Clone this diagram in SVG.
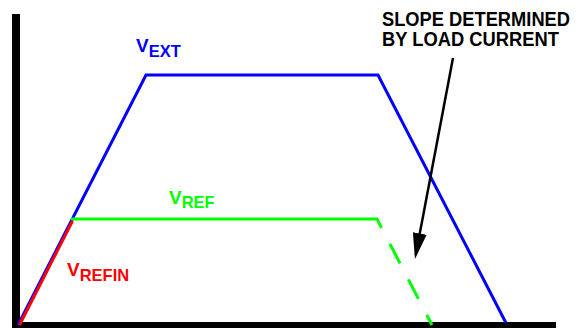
<svg xmlns="http://www.w3.org/2000/svg" width="582" height="328" viewBox="0 0 582 328">
<style>
.lbl{font-family:"Liberation Sans",Arial,sans-serif;font-weight:bold}
.ln{fill:none;stroke-width:3;stroke-linejoin:miter}
</style>
<defs>
<marker id="ah" markerWidth="26" markerHeight="14" refX="22" refY="7" orient="auto" markerUnits="userSpaceOnUse" viewBox="0 0 26 14">
<path d="M0,0 L26,7 L0,14 Z" fill="#000"/>
</marker>
</defs>
<rect width="582" height="328" fill="#fff"/>
<g id="axes">
<rect x="12" y="14" width="8" height="314" fill="#000"/>
<rect x="12" y="322" width="544" height="6" fill="#000"/>
</g>
<g id="connectors">
<polyline class="ln" stroke="#0000FF" points="18,325 146,75 378,75 506,323"/>
<line class="ln" stroke="#00FF00" x1="71" y1="219" x2="378" y2="219"/>
<line class="ln" stroke="#00FF00" x1="377" y1="219" x2="432" y2="325" stroke-dasharray="22,18" stroke-dashoffset="12"/>
<line class="ln" stroke="#FF0000" x1="19.5" y1="325" x2="72.5" y2="221"/>
<line stroke="#000" stroke-width="2.5" x1="453" y1="58" x2="415.7" y2="255.1" marker-end="url(#ah)"/>
</g>
<g id="vext">
<text class="lbl" fill="#0000FF" x="136" y="52" font-size="19">V<tspan font-size="16.5" dy="5">EXT</tspan></text>
</g>
<g id="vref">
<text class="lbl" fill="#00FF00" x="169" y="204" font-size="19">V<tspan font-size="16.5" dy="4">REF</tspan></text>
</g>
<g id="vrefin">
<text class="lbl" fill="#FF0000" x="67" y="276" font-size="19">V<tspan font-size="16.5" dy="5">REFIN</tspan></text>
</g>
<g id="note">
<text class="lbl" fill="#000" font-size="19.5" x="382" y="26" textLength="188" lengthAdjust="spacingAndGlyphs">SLOPE DETERMINED</text>
<text class="lbl" fill="#000" font-size="19.5" x="382" y="46" textLength="177" lengthAdjust="spacingAndGlyphs">BY LOAD CURRENT</text>
</g>
</svg>
